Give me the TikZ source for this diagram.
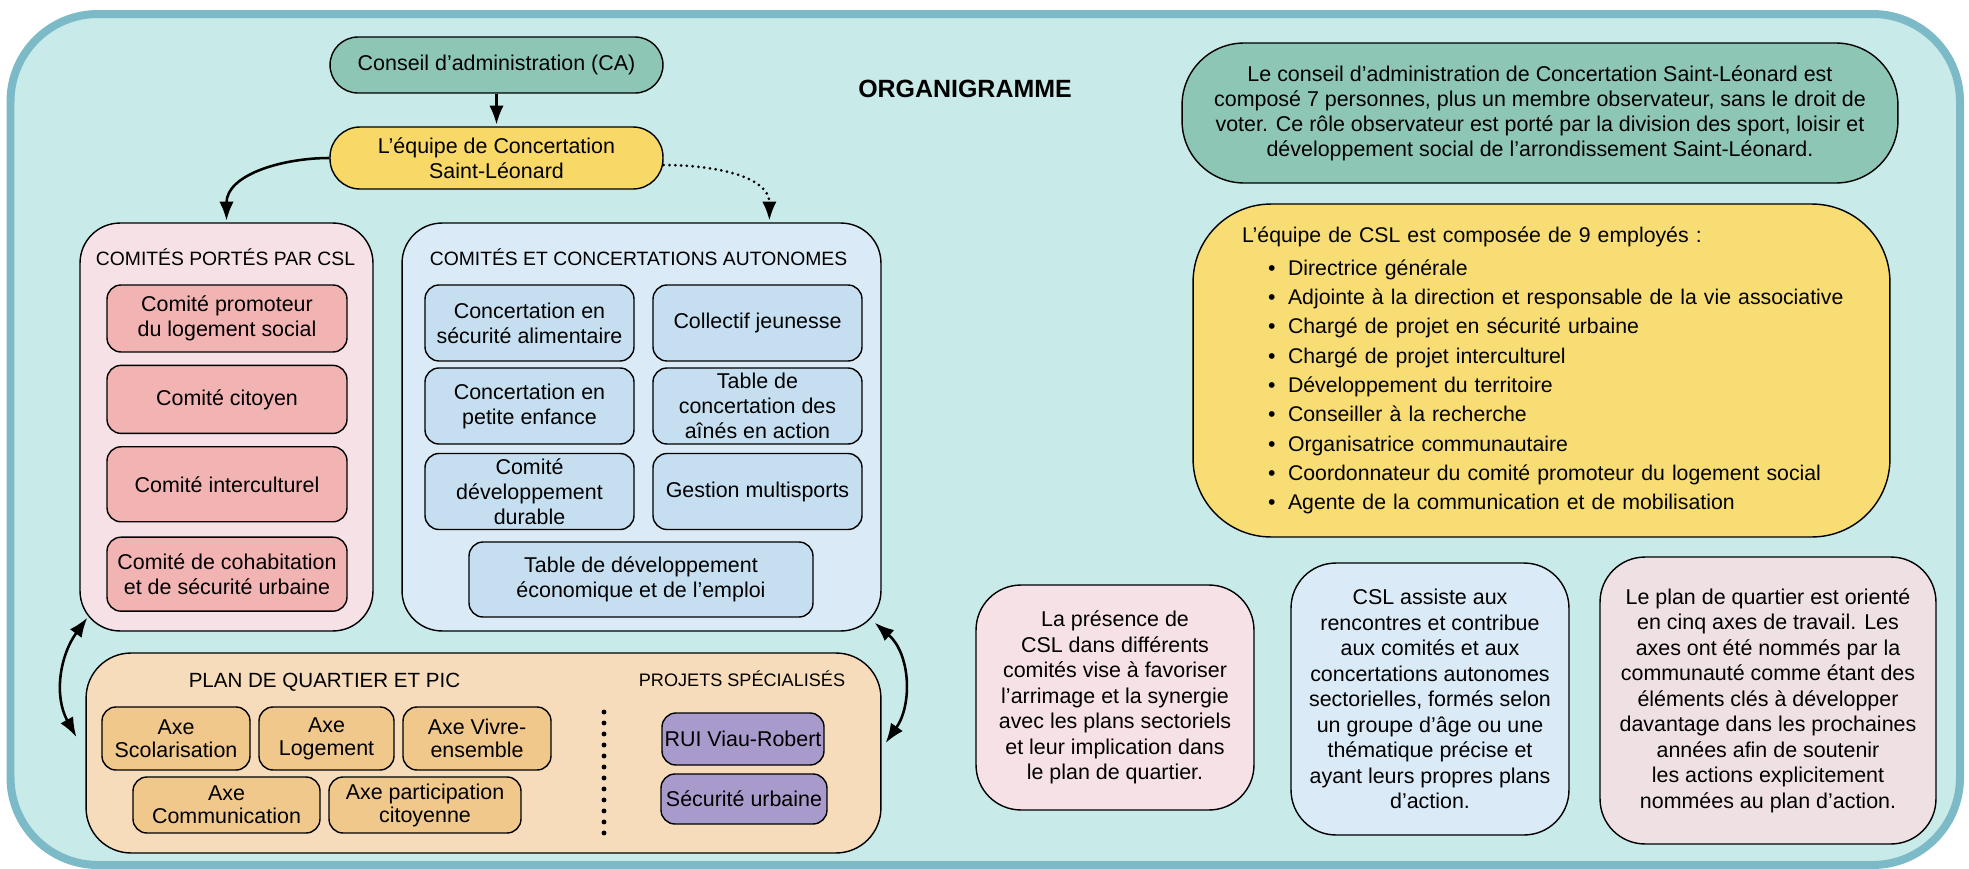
\documentclass[tikz,border=0pt]{standalone}
\usepackage{fontspec}
\setmainfont{Liberation Sans}
\usepackage{tikz}
\usetikzlibrary{arrows.meta,positioning}
\definecolor{cslframe}{RGB}{125,186,199}
\definecolor{cslback}{RGB}{200,234,232}
\definecolor{cslteal}{RGB}{142,198,181}
\definecolor{cslyellow}{RGB}{248,217,103}
\definecolor{cslpale}{RGB}{247,221,116}
\definecolor{cslpinkbg}{RGB}{246,225,230}
\definecolor{cslpink}{RGB}{242,179,179}
\definecolor{cslbluebg}{RGB}{218,234,247}
\definecolor{cslblue}{RGB}{197,223,241}
\definecolor{cslpeach}{RGB}{246,220,187}
\definecolor{cslorange}{RGB}{240,200,140}
\definecolor{csllilac}{RGB}{168,155,203}
\definecolor{cslrose}{RGB}{239,224,228}
\newcommand{\cslitem}[1]{\hspace*{0.52cm}\makebox[0.4cm][l]{\textbullet}\mbox{#1}}
\tikzset{
  boxtext/.style={font=\fontsize{12.2}{14.2}\selectfont, align=center, inner sep=1pt},
  headbox/.style={boxtext, draw=black, line width=0.8pt, fill=cslteal,
    minimum width=6.66cm, rounded corners=0.56cm},
  groupbox/.style={draw=black, line width=0.8pt, rounded corners=0.8cm,
    minimum height=8.16cm},
  itembox/.style={boxtext, draw=black, line width=0.8pt, rounded corners=0.28cm},
  pinkitem/.style={itembox, fill=cslpink, minimum width=4.8cm},
  blueitem/.style={itembox, fill=cslblue, minimum width=4.18cm, minimum height=1.52cm},
  axeitem/.style={itembox, fill=cslorange, font=\fontsize{12.2}{13.1}\selectfont},
  projitem/.style={itembox, fill=csllilac},
  notebox/.style={boxtext, draw=black, line width=0.8pt, rounded corners=0.9cm,
    font=\fontsize{12.2}{14.5}\selectfont},
  grouptitle/.style={anchor=base, inner sep=0pt, font=\fontsize{11}{13}\selectfont},
  flow/.style={-{Latex[length=3.8mm,width=2.9mm]}, line width=1.45pt, shorten >=1pt},
  dotflow/.style={-{Latex[length=3.8mm,width=2.9mm]}, line width=1.7pt, shorten >=1pt,
    line cap=round, dash pattern=on 0pt off 3.3pt},
  linkflow/.style={{Latex[length=3.9mm,width=2.9mm]}-{Latex[length=3.9mm,width=2.9mm]},
    line width=1.45pt},
  sepdots/.style={line width=2.8pt, line cap=round, dash pattern=on 0pt off 0.22cm}
}

\begin{document}
\begin{tikzpicture}[x=0.02cm, y=-0.02cm]
  \useasboundingbox (0,0) rectangle (1969,869);
  \draw[cslframe, fill=cslback, line width=0.16cm, rounded corners=1.75cm]
    (10.5,14) rectangle (1960,865);

  % organigramme
  \node[headbox, minimum height=1.12cm] (ca) at (496.5,65) {Conseil d’administration (CA)};
  \node[headbox, fill=cslyellow, minimum height=1.24cm, rounded corners=0.6cm] (equipe)
    at (496.5,158) {L’équipe de Concertation\\Saint-Léonard};
  \node[anchor=base, inner sep=0pt, font=\fontsize{14.2}{17}\selectfont\bfseries] (titre)
    at (965,97) {ORGANIGRAMME};

  \node[groupbox, fill=cslpinkbg, minimum width=5.86cm] (portes) at (226.5,427) {};
  \node[groupbox, fill=cslbluebg, minimum width=9.58cm] (autonomes) at (641.5,427) {};
  \node[grouptitle] (portestitre) at (225.5,265) {COMITÉS PORTÉS PAR CSL};
  \node[grouptitle] (autonomestitre) at (638.5,265) {COMITÉS ET CONCERTATIONS AUTONOMES};

  \node[pinkitem, minimum height=1.34cm] (promoteur) at (227,318.5)
    {Comité promoteur\\du logement social};
  \node[pinkitem, minimum height=1.36cm, below=0.24cm of promoteur] (citoyen) {Comité citoyen};
  \node[pinkitem, minimum height=1.5cm, below=0.24cm of citoyen] (interculturel)
    {Comité interculturel};
  \node[pinkitem, minimum height=1.48cm, below=0.28cm of interculturel] (cohabitation)
    {Comité de cohabitation\\et de sécurité urbaine};

  \node[blueitem] (alimentaire) at (529.5,323) {Concertation en\\sécurité alimentaire};
  \node[blueitem] (jeunesse) at (757.5,323) {Collectif jeunesse};
  \node[blueitem] (enfance) at (529.5,406) {Concertation en\\petite enfance};
  \node[blueitem] (aines) at (757.5,406) {Table de\\concertation des\\aînés en action};
  \node[blueitem] (durable) at (529.5,491.5) {Comité\\développement\\durable};
  \node[blueitem] (multisports) at (757.5,491.5) {Gestion multisports};
  \node[blueitem, minimum width=6.88cm, minimum height=1.5cm] (emploi) at (641,579.5)
    {Table de développement\\économique et de l’emploi};

  \node[groupbox, fill=cslpeach, minimum width=15.9cm, minimum height=4cm,
    rounded corners=0.9cm] (plan) at (483.5,753) {};
  \node[grouptitle, font=\fontsize{11.7}{14}\selectfont] (plantitre) at (324.5,687)
    {PLAN DE QUARTIER ET PIC};
  \node[grouptitle, font=\fontsize{10.3}{12}\selectfont] (projetstitre) at (742,686.5)
    {PROJETS SPÉCIALISÉS};
  \node[axeitem, minimum width=2.96cm, minimum height=1.26cm] (scolarisation) at (176,738.5)
    {Axe\\Scolarisation};
  \node[axeitem, minimum width=2.7cm, minimum height=1.26cm] (logement) at (326.5,738.5)
    {Axe\\Logement};
  \node[axeitem, minimum width=2.96cm, minimum height=1.26cm] (vivre) at (477,738.5)
    {Axe Vivre-\\ensemble};
  \node[axeitem, minimum width=3.74cm, minimum height=1.12cm] (communication) at (226.5,805)
    {Axe\\Communication};
  \node[axeitem, minimum width=3.84cm, minimum height=1.12cm] (participation) at (425,805)
    {Axe participation\\citoyenne};
  \draw[sepdots] (604,712) -- (604,834);
  \node[projitem, minimum width=3.24cm, minimum height=1.04cm] (rui) at (743,739)
    {RUI Viau-Robert};
  \node[projitem, minimum width=3.32cm, minimum height=1cm] (securite) at (744,799)
    {Sécurité urbaine};

  % notes
  \node[notebox, fill=cslteal, minimum width=14.32cm, minimum height=2.8cm,
    rounded corners=1.24cm, font=\fontsize{12.2}{14.2}\selectfont] (canote) at (1540,113)
    {Le conseil d’administration de Concertation Saint-Léonard est\\
     composé 7 personnes, plus un membre observateur, sans le droit de\\
     voter. Ce rôle observateur est porté par la division des sport, loisir et\\
     développement social de l’arrondissement Saint-Léonard.};
  \node[notebox, fill=cslpale, minimum width=13.94cm, minimum height=6.66cm,
    rounded corners=1.56cm, text width=11.98cm, align=left,
    font=\fontsize{12.1}{16.7}\selectfont] (equipenote) at (1541.5,370.5)
    {L’équipe de CSL est composée de 9 employés :\\[2pt]
     \cslitem{Directrice générale}\\
     \cslitem{Adjointe à la direction et responsable de la vie associative}\\
     \cslitem{Chargé de projet en sécurité urbaine}\\
     \cslitem{Chargé de projet interculturel}\\
     \cslitem{Développement du territoire}\\
     \cslitem{Conseiller à la recherche}\\
     \cslitem{Organisatrice communautaire}\\
     \cslitem{Coordonnateur du comité promoteur du logement social}\\
     \cslitem{Agente de la communication et de mobilisation}};
  \node[notebox, fill=cslpinkbg, minimum width=5.56cm, minimum height=4.5cm] (presence)
    at (1115,697.5)
    {La présence de\\CSL dans différents\\comités vise à favoriser\\l’arrimage et la synergie\\
     avec les plans sectoriels\\et leur implication dans\\le plan de quartier.};
  \node[notebox, fill=cslbluebg, minimum width=5.56cm, minimum height=5.44cm] (assiste)
    at (1430,699)
    {CSL assiste aux\\rencontres et contribue\\aux comités et aux\\concertations autonomes\\
     sectorielles, formés selon\\un groupe d’âge ou une\\thématique précise et\\
     ayant leurs propres plans\\d’action.};
  \node[notebox, fill=cslrose, minimum width=6.72cm, minimum height=5.74cm] (axes)
    at (1768,700.5)
    {Le plan de quartier est orienté\\en cinq axes de travail. Les\\axes ont été nommés par la\\
     communauté comme étant des\\éléments clés à développer\\davantage dans les prochaines\\
     années afin de soutenir\\les actions explicitement\\nommées au plan d’action.};

  % liens
  \draw[flow] (ca) -- (equipe);
  \draw[flow] (equipe.west) to[out=180, in=90] (portes.north);
  \draw[dotflow] ([yshift=-4]equipe.east) to[out=0, in=90] (autonomes.58);
  \draw[linkflow] ([shift={(8,-14)}]portes.south west) to[out=234, in=119]
    ([shift={(-9,-16)}]plan.west);
  \draw[linkflow] ([shift={(-7,-9)}]autonomes.south east) to[out=319, in=55]
    ([shift={(4,-10)}]plan.east);
\end{tikzpicture}
\end{document}
